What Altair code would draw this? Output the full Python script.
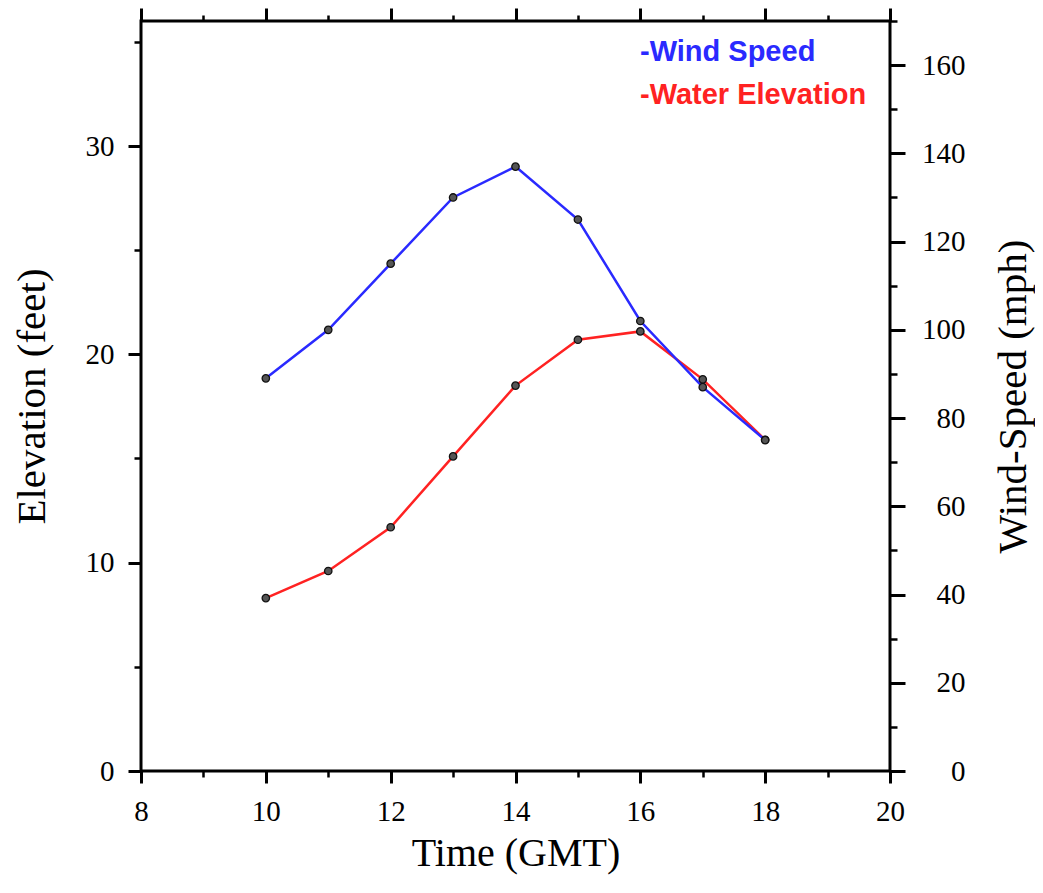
import altair as alt
import pandas as pd

# ---- data ----
time_gmt = [10, 11, 12, 13, 14, 15, 16, 17, 18]
water_elevation_ft = [8.3, 9.6, 11.7, 15.1, 18.5, 20.7, 21.1, 18.8, 15.9]
wind_speed_mph = [89, 100, 115, 130, 137, 125, 102, 87, 75]

x_major = [8, 10, 12, 14, 16, 18, 20]
x_minor = [9, 11, 13, 15, 17, 19]
elev_major = [0, 10, 20, 30]
elev_minor = [5, 15, 25, 35]
wind_major = [0, 20, 40, 60, 80, 100, 120, 140, 160]
wind_minor = [10, 30, 50, 70, 90, 110, 130, 150, 170]

legend_wind = ["-Wind Speed"]
legend_water = ["-Water Elevation"]

BLUE = "#2a2aff"
RED = "#ff2222"
SERIF = "Liberation Serif"

df = pd.DataFrame({"time": time_gmt, "elev": water_elevation_ft, "wind": wind_speed_mph})

x_scale = alt.Scale(domain=[8, 20], nice=False, zero=False)
elev_scale = alt.Scale(domain=[0, 36], nice=False)
wind_scale = alt.Scale(domain=[0, 170], nice=False)

base = alt.Chart(df)

# Red line with bottom + left major axes
red_line = base.mark_line(color=RED, strokeWidth=2.5).encode(
    x=alt.X("time:Q", scale=x_scale,
            axis=alt.Axis(orient="bottom", values=x_major, title="Time (GMT)",
                          tickSize=12, tickWidth=3, labelPadding=14, titlePadding=7,
                          titleFontSize=40, labelFlush=False)),
    y=alt.Y("elev:Q", scale=elev_scale,
            axis=alt.Axis(orient="left", values=elev_major, title="Elevation (feet)",
                          tickSize=13, tickWidth=3, labelPadding=14, titlePadding=32,
                          labelFlush=False)),
)

# Blue line with top + right major axes
blue_line = base.mark_line(color=BLUE, strokeWidth=2.5).encode(
    x=alt.X("time:Q", scale=x_scale,
            axis=alt.Axis(orient="top", values=x_major, title=None, labels=False,
                          tickSize=13, tickWidth=3)),
    y=alt.Y("wind:Q", scale=wind_scale,
            axis=alt.Axis(orient="right", values=wind_major, title="Wind-Speed (mph)",
                          tickSize=15, tickWidth=3, labelAlign="right", labelPadding=60,
                          labelFlush=False,
                          titleAngle=270, titleBaseline="top", titlePadding=28)),
)

# Minor tick axes (bottom / left)
minor_a = base.mark_point(opacity=0).encode(
    x=alt.X("time:Q", scale=x_scale,
            axis=alt.Axis(orient="bottom", values=x_minor, title=None, labels=False,
                          tickSize=6, tickWidth=2.5)),
    y=alt.Y("elev:Q", scale=elev_scale,
            axis=alt.Axis(orient="left", values=elev_minor, title=None, labels=False,
                          tickSize=7, tickWidth=2.5)),
)

# Minor tick axes (top / right)
minor_b = base.mark_point(opacity=0).encode(
    x=alt.X("time:Q", scale=x_scale,
            axis=alt.Axis(orient="top", values=x_minor, title=None, labels=False,
                          tickSize=6, tickWidth=2.5)),
    y=alt.Y("wind:Q", scale=wind_scale,
            axis=alt.Axis(orient="right", values=wind_minor, title=None, labels=False,
                          tickSize=7, tickWidth=2.5)),
)

pt_style = dict(filled=True, fill="#555555", stroke="#111111", strokeWidth=1.3, size=55, opacity=1)

red_pts = base.mark_point(**pt_style).encode(
    x=alt.X("time:Q", scale=x_scale, axis=None),
    y=alt.Y("elev:Q", scale=elev_scale, axis=None),
)
blue_pts = base.mark_point(**pt_style).encode(
    x=alt.X("time:Q", scale=x_scale, axis=None),
    y=alt.Y("wind:Q", scale=wind_scale, axis=None),
)

txt_style = dict(align="left", baseline="middle", font="Liberation Sans",
                 fontWeight="bold", fontSize=29)
leg1 = alt.Chart(pd.DataFrame({"t": legend_wind})).mark_text(color=BLUE, **txt_style).encode(
    x=alt.value(499), y=alt.value(31), text="t:N")
leg2 = alt.Chart(pd.DataFrame({"t": legend_water})).mark_text(color=RED, **txt_style).encode(
    x=alt.value(499), y=alt.value(74), text="t:N")

chart = alt.layer(
    minor_a, minor_b, red_line, blue_line, red_pts, blue_pts, leg1, leg2
).resolve_scale(
    y="independent"
).resolve_axis(
    x="independent", y="independent"
).properties(
    width=749, height=750,
    autosize=alt.AutoSizeParams(type="none"),
    padding={"left": 133, "top": 13, "right": 145, "bottom": 109},
    background="white",
).configure_view(
    stroke="black", strokeWidth=3
).configure_axis(
    grid=False, domain=False, tickColor="black",
    labelFont=SERIF, labelFontSize=29, labelColor="black",
    titleFont=SERIF, titleFontSize=41, titleFontWeight="normal", titleColor="black",
)

chart.save("out.html", embed_options={"renderer": "svg", "actions": False})
